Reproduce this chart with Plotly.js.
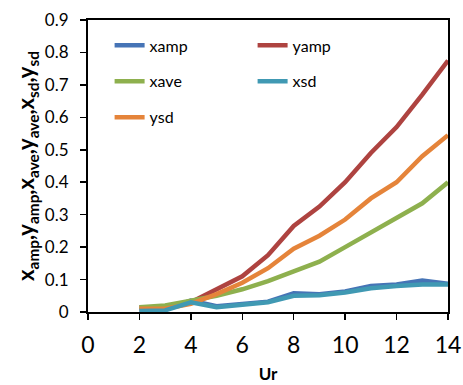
<!DOCTYPE html>
<html><head><meta charset="utf-8">
<script src="https://cdn.plot.ly/plotly-3.0.1.min.js"></script>
<style>html,body{margin:0;padding:0;background:#fff}#c{width:463px;height:385px}</style>
</head><body><div id="c"></div>
<script>
const ur = [2,3,4,5,6,7,8,9,10,11,12,13,14];
const xamp = [0.005,0.008,0.035,0.018,0.025,0.032,0.058,0.055,0.063,0.080,0.085,0.097,0.087];
const yamp = [0.015,0.015,0.030,0.070,0.110,0.175,0.265,0.325,0.400,0.490,0.570,0.670,0.775];
const xave = [0.015,0.020,0.035,0.050,0.070,0.095,0.125,0.155,0.200,0.245,0.290,0.335,0.400];
const xsd  = [0.003,0.005,0.030,0.015,0.022,0.030,0.050,0.052,0.060,0.073,0.080,0.085,0.085];
const ysd  = [0.010,0.010,0.025,0.055,0.090,0.135,0.195,0.235,0.285,0.350,0.400,0.480,0.545];
const names = ['xamp','yamp','xave','xsd','ysd'];
const colors = ['#4674B6','#AE4340','#8EB04E','#4099B3','#E5843A'];
const legs = ['legend','legend','legend2','legend2','legend3'];
const series = [xamp,yamp,xave,xsd,ysd];
const order = [1,0,2,4,3];
const data = order.map(i => ({
  x: ur, y: series[i], name: names[i], type:'scatter', mode:'lines',
  line:{color:colors[i], width:4.5}, legend: legs[i], legendrank: i
}));
const font = {family:'Lato, "Liberation Sans", sans-serif', color:'#000'};
const legBase = {orientation:'h', x:0.06, xanchor:'left', yanchor:'middle',
  bgcolor:'rgba(0,0,0,0)', font:{...font, size:16}, entrywidth:98, traceorder:'normal',
  itemwidth:30};
const layout = {
  width:463, height:385, margin:{l:88, r:15, t:20, b:73},
  paper_bgcolor:'#fff', plot_bgcolor:'#fff', font:font, showlegend:true,
  legend:{...legBase, y:0.913},
  legend2:{...legBase, y:0.79},
  legend3:{...legBase, y:0.667},
  xaxis:{range:[0,14], dtick:2, tick0:0, ticks:'outside', ticklen:6, tickwidth:1.5,
    tickcolor:'#000', showline:true, linecolor:'#000', linewidth:2, mirror:true,
    showgrid:false, zeroline:false, tickfont:{...font, size:23}, ticklabelstandoff:5,
    title:{text:'<b>Ur</b>', font:{...font, size:17}, standoff:12}},
  yaxis:{range:[0,0.9], dtick:0.1, tick0:0, ticks:'outside', ticklen:6, tickwidth:1.5,
    tickcolor:'#000', showline:true, linecolor:'#000', linewidth:2, mirror:true,
    showgrid:false, zeroline:false, tickfont:{...font, size:17}, tickformat:'.1~f',
    ticklabelstandoff:8,
    title:{text:'<b>x<sub>amp</sub>,y<sub>amp</sub>,x<sub>ave</sub>,y<sub>ave</sub>,x<sub>sd</sub>,y<sub>sd</sub></b>',
      font:{...font, size:22}, standoff:4}}
};
Plotly.newPlot('c', data, layout, {displayModeBar:false, staticPlot:true});
</script></body></html>
